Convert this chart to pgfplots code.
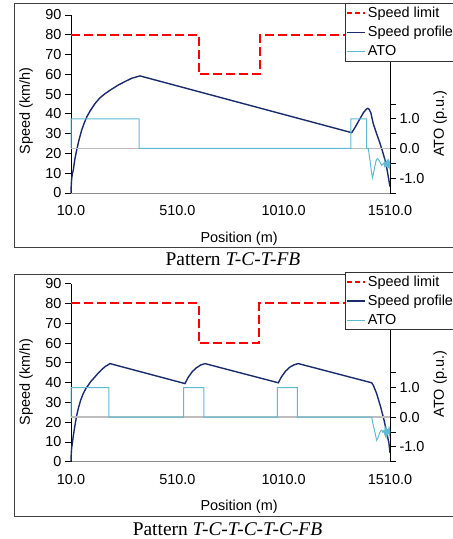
\documentclass[border=0pt]{standalone}
\usepackage{pgfplots}
\pgfplotsset{compat=1.18}
\usepackage{fontspec}
\setmainfont{Liberation Sans}
\newfontfamily\capfont{Liberation Serif}
\definecolor{navy}{HTML}{1A2B6D}
\definecolor{ato}{HTML}{5EBAD4}
\definecolor{zerogray}{HTML}{BDBDBD}
\newcommand\chartfont{\fontsize{14.5}{17}\selectfont}
\newcommand\capsize{\fontsize{19.5}{22}\selectfont}

\pgfplotsset{
  panel/.style={
    scale only axis, width=319bp, height=178bp,
    xmin=10, xmax=1510, anchor=south west,
    /pgf/number format/assume math mode=true,
    tick label style={font=\chartfont},
    label style={font=\chartfont, anchor=center},
    tick align=outside, major tick length=6bp,
    axis line style={-},
    clip=false,
  },
  leftaxis/.style={
    panel, ymin=0, ymax=90, ytick={0,10,...,90},
    xtick={10,510,1010,1510}, xticklabels={10.0,510.0,1010.0,1510.0},
    xticklabel style={yshift=-3bp},
    axis x line*=bottom, axis y line*=left,
    x axis line style={color=black!45, line width=0.9bp},
    y axis line style={color=black, line width=0.9bp},
    xtick style={draw=none}, ytick style={black, line width=0.8bp},
    xlabel={Position (m)}, ylabel={Speed (km/h)},
    xlabel style={at={(rel axis cs:0.527,-0.255)}},
    ylabel style={at={(rel axis cs:-0.141,0.46)}},
  },
  rightaxis/.style={
    panel, ymin=-1.5, ymax=4.5,
    ytick={-1.5,-1,-0.5,0,0.5,1,1.5},
    yticklabels={,-1.0,,0.0,,1.0,},
    axis x line=none, axis y line*=right,
    y axis line style={color=black, line width=0.9bp},
    ytick style={black, line width=0.8bp},
    ylabel={ATO (p.u.)},
    legend style={at={(rel axis cs:0.859,1.067)}, anchor=north west,
      draw=black!80, line width=0.8bp, fill=white, font=\chartfont,
      inner xsep=1bp, inner ysep=2bp, row sep=4.5bp,
      nodes={inner xsep=1.5bp, inner ysep=1.5bp}},
    legend cell align=left,
  },
}

\begin{document}
\begin{tikzpicture}
\clip (0bp,0bp) rectangle (453bp,539bp);
\path[use as bounding box] (0bp,0bp) rectangle (453bp,539bp);

% ---------------- Panel 1 ----------------
\draw[black!75, line width=0.8bp] (14bp,292bp) rectangle (480bp,536bp);
\begin{axis}[leftaxis, at={(71bp,346bp)}]
\addplot[red, line width=2bp, dash pattern=on 9bp off 4bp] coordinates {
(10,80)(610,80)(610,60)(900,60)(900,80)(1510,80)};
\addplot[navy, line width=1.4bp] coordinates {
(10,0)(11,3.5)(13,7)(16,9.5)(20.8,11.6)(28,17)(36.8,21.7)(48,27)(60.3,31.8)
(72,35.3)(83.8,38.4)(100,41.5)(122.9,45.2)(145,48)(169.9,50.2)(200,52.4)
(232.4,54.6)(265,56.4)(295.4,58)(334.5,59.2)
(1330,30.5)(1345,33)(1361,36.1)(1385,40.6)(1398,42.3)(1405,42.8)(1412,42.3)
(1420,40.5)(1431,35.2)(1447,30)(1463,25.1)(1475,21)(1486.5,16.7)(1495,12.5)
(1502,8.2)(1510,3.2)};
\end{axis}
\begin{axis}[rightaxis, at={(71bp,346bp)}, ylabel style={at={(rel axis cs:1.157,0.39)}},
  legend image code/.code={\draw[#1] (0bp,0bp) -- (18bp,0bp);}]
\addlegendimage{red, line width=2bp, dash pattern=on 5bp off 3bp}
\addlegendentry{Speed limit}
\addlegendimage{navy, line width=1.4bp}
\addlegendentry{Speed profile}
\addplot[zerogray, line width=1.6bp, forget plot] coordinates {(10,0)(1510,0)};
\addplot[ato, line width=1bp] coordinates {
(10,0)(10,1)(330,1)(330,0)(1326,0)(1326,1)(1400,1)(1400,0)(1408,0)(1412,-0.2)
(1416,-0.4)(1422,-0.75)(1427,-0.98)(1432,-0.85)(1438,-0.63)(1444,-0.42)
(1450,-0.34)(1455,-0.36)(1460,-0.42)(1466,-0.5)(1471,-0.57)(1476,-0.52)
(1480,-0.5)(1484,-0.58)(1486,-0.46)(1488,-0.6)(1490,-0.45)(1492,-0.62)
(1494,-0.42)(1496,-0.6)(1498,-0.38)(1500,-0.62)(1502,-0.35)(1504,-0.65)
(1506,-0.4)(1508,-0.6)(1510,-0.5)};
\addlegendentry{ATO}
\end{axis}
\node[font=\capfont\capsize, anchor=base] at (233bp,273bp) {Pattern \textit{T-C-T-FB}};

% ---------------- Panel 2 ----------------
\draw[black!75, line width=0.8bp] (14bp,23bp) rectangle (480bp,265bp);
\begin{axis}[leftaxis, at={(71bp,77.3bp)}, ylabel style={at={(rel axis cs:-0.141,0.447)}}]
\addplot[red, line width=2bp, dash pattern=on 9bp off 4bp] coordinates {
(10,80)(610,80)(610,60)(895,60)(895,80)(1510,80)};
\addplot[navy, line width=1.4bp] coordinates {
(10,0)(11,3.5)(13,7)(16,9)(20.8,13)(28.8,18.5)(36,23)(44.3,26.9)(55,31)
(67.8,34.5)(80,37)(91.3,38.7)(105,40.8)(122.9,42.9)(138,44.8)(154.4,46.6)
(172,48.2)(193.4,49.6)
(546,39.5)(560,42.5)(580,45.5)(600,47.5)(620,48.9)(640,49.6)
(985,39.9)(999,42.8)(1019,45.8)(1039,47.8)(1059,49)(1079,49.6)
(1424,39.9)(1432,38.5)(1447,34.5)(1466,27.7)(1482,21)(1494,15.1)(1505,9.3)
(1510,4.5)};
\end{axis}
\begin{axis}[rightaxis, at={(71bp,77.3bp)}, ylabel style={at={(rel axis cs:1.157,0.436)}},
  legend image code/.code={\draw[#1] (0bp,0bp) -- (18bp,0bp);}]
\addlegendimage{red, line width=2bp, dash pattern=on 5bp off 3bp}
\addlegendentry{Speed limit}
\addlegendimage{navy, line width=1.4bp}
\addlegendentry{Speed profile}
\addplot[zerogray, line width=1.6bp, forget plot] coordinates {(10,0)(1510,0)};
\addplot[ato, line width=1bp] coordinates {
(10,0)(10,1)(188,1)(188,0)(540,0)(540,1)(635,1)(635,0)(980,0)(980,1)(1074,1)
(1074,0)(1424,0)(1431,-0.27)(1439,-0.5)(1447,-0.78)(1453,-0.7)(1460,-0.55)
(1466,-0.46)(1471,-0.44)(1476,-0.5)(1480,-0.46)(1484,-0.55)(1486,-0.42)
(1488,-0.56)(1490,-0.44)(1492,-0.58)(1494,-0.44)(1496,-0.55)(1498,-0.4)
(1500,-0.6)(1502,-0.38)(1504,-0.56)(1506,-0.32)(1508,-0.55)(1510,-0.45)};
\addlegendentry{ATO}
\end{axis}
\node[font=\capfont\capsize, anchor=base] at (227.5bp,3.5bp) {Pattern \textit{T-C-T-C-T-C-FB}};
\end{tikzpicture}
\end{document}
